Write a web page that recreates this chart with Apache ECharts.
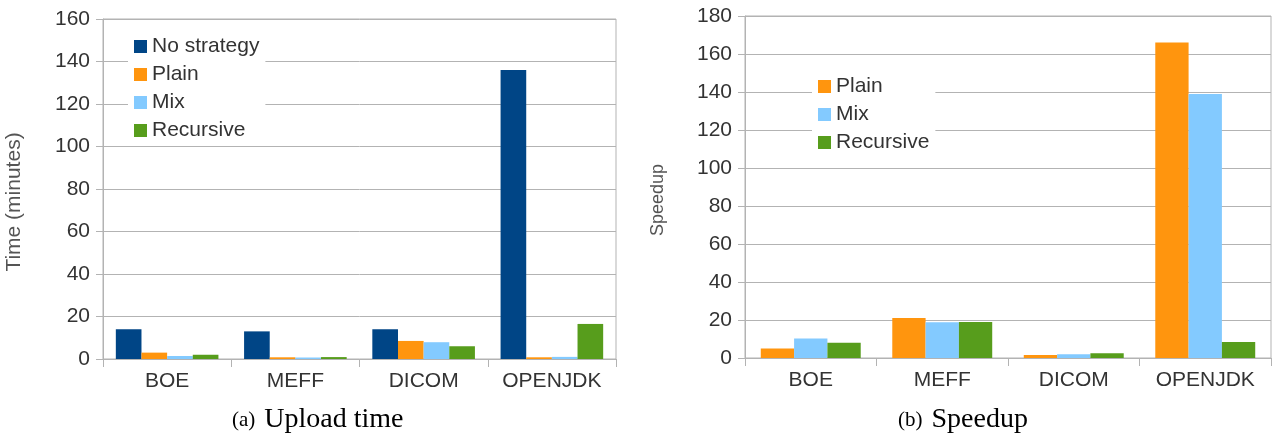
<!DOCTYPE html>
<html>
<head>
<meta charset="utf-8">
<script src="https://cdn.jsdelivr.net/npm/echarts@6/dist/echarts.min.js"></script>
<style>
  html, body { margin: 0; padding: 0; background: #fff; }
  #chart { width: 1273px; height: 436px; }
</style>
</head>
<body>
<div id="chart"></div>
<script>
// data
const categories = ['BOE', 'MEFF', 'DICOM', 'OPENJDK']

// (a) upload time, minutes
const timeNoStrategy = [14, 13, 14, 136]
const timePlain = [3, 0.8, 8.5, 0.8]
const timeMix = [1.4, 0.7, 7.9, 1.0]
const timeRecursive = [2, 0.9, 6, 16.5]

// (b) speedup
const speedPlain = [5, 21, 1.6, 166]
const speedMix = [10.2, 18.8, 2, 139]
const speedRecursive = [8, 19, 2.5, 8.4]

const COLORS = {
  'No strategy': '#004586',
  'Plain': '#ff950e',
  'Mix': '#83caff',
  'Recursive': '#579d1c'
}

const SANS = '"Liberation Sans", Arial, sans-serif'
const SERIF = '"Liberation Serif", "Times New Roman", serif'
const GRID_COLOR = '#b3b3b3'

const chart = echarts.init(document.getElementById('chart'), null, { renderer: 'canvas' })

function catAxis(gridIndex) {
  return {
    type: 'category',
    gridIndex,
    data: categories,
    axisLine: { lineStyle: { color: GRID_COLOR } },
    axisTick: { show: true, interval: 0, length: 8, lineStyle: { color: GRID_COLOR } },
    axisLabel: { interval: 0, color: '#333', fontSize: 21, fontFamily: SANS, margin: 12 },
    splitLine: { show: false }
  }
}

function valAxis(gridIndex, max, name, nameSize) {
  return {
    type: 'value',
    gridIndex,
    min: 0,
    max,
    interval: 20,
    name,
    nameLocation: 'middle',
    nameGap: 78,
    nameTextStyle: { color: '#555', fontSize: nameSize, fontFamily: SANS, padding: [0, 26, 0, 0] },
    axisLine: { show: true, lineStyle: { color: GRID_COLOR } },
    axisTick: { show: true, length: 7, lineStyle: { color: GRID_COLOR } },
    axisLabel: { color: '#333', fontSize: 21, fontFamily: SANS, margin: 13 },
    splitLine: { lineStyle: { color: GRID_COLOR, width: 1 } }
  }
}

function bar(name, data, idx, gap) {
  return {
    name,
    type: 'bar',
    xAxisIndex: idx,
    yAxisIndex: idx,
    data,
    barGap: '0%',
    barCategoryGap: gap,
    itemStyle: { color: COLORS[name] },
    emphasis: { disabled: true }
  }
}

function legendBox(names, left, top) {
  return {
    data: names,
    orient: 'vertical',
    left,
    top,
    itemWidth: 13,
    itemHeight: 13,
    itemGap: 7,
    padding: [2, 6, 2, 6],
    backgroundColor: '#fff',
    icon: 'rect',
    textStyle: { color: '#333', fontSize: 21, fontFamily: SANS, lineHeight: 21 }
  }
}

function caption(tag, text, left) {
  return {
    text: '{a|' + tag + '}{b|' + text + '}',
    left,
    top: 401,
    textStyle: {
      fontWeight: 'normal',
      rich: {
        a: { fontFamily: SERIF, fontSize: 21, fontWeight: 'normal', color: '#000', padding: [0, 9, 0, 0] },
        b: { fontFamily: SERIF, fontSize: 28, fontWeight: 'normal', color: '#000' }
      }
    }
  }
}

chart.setOption({
  animation: false,
  title: [
    caption('(a)', 'Upload time', 227),
    caption('(b)', 'Speedup', 893)
  ],
  legend: [
    legendBox(['No strategy', 'Plain', 'Mix', 'Recursive'], 128, 34),
    legendBox(['Plain', 'Mix', 'Recursive'], 812, 74)
  ],
  grid: [
    { left: 103, top: 19, width: 513, height: 340, show: true, borderColor: GRID_COLOR, borderWidth: 1, containLabel: false },
    { left: 745, top: 16, width: 526, height: 342, show: true, borderColor: GRID_COLOR, borderWidth: 1, containLabel: false }
  ],
  xAxis: [catAxis(0), catAxis(1)],
  yAxis: [
    valAxis(0, 160, 'Time (minutes)', 21),
    valAxis(1, 180, 'Speedup', 18)
  ],
  series: [
    bar('No strategy', timeNoStrategy, 0, '20%'),
    bar('Plain', timePlain, 0, '20%'),
    bar('Mix', timeMix, 0, '20%'),
    bar('Recursive', timeRecursive, 0, '20%'),
    bar('Plain', speedPlain, 1, '24%'),
    bar('Mix', speedMix, 1, '24%'),
    bar('Recursive', speedRecursive, 1, '24%')
  ]
})

window.addEventListener('resize', () => chart.resize())
</script>
</body>
</html>
